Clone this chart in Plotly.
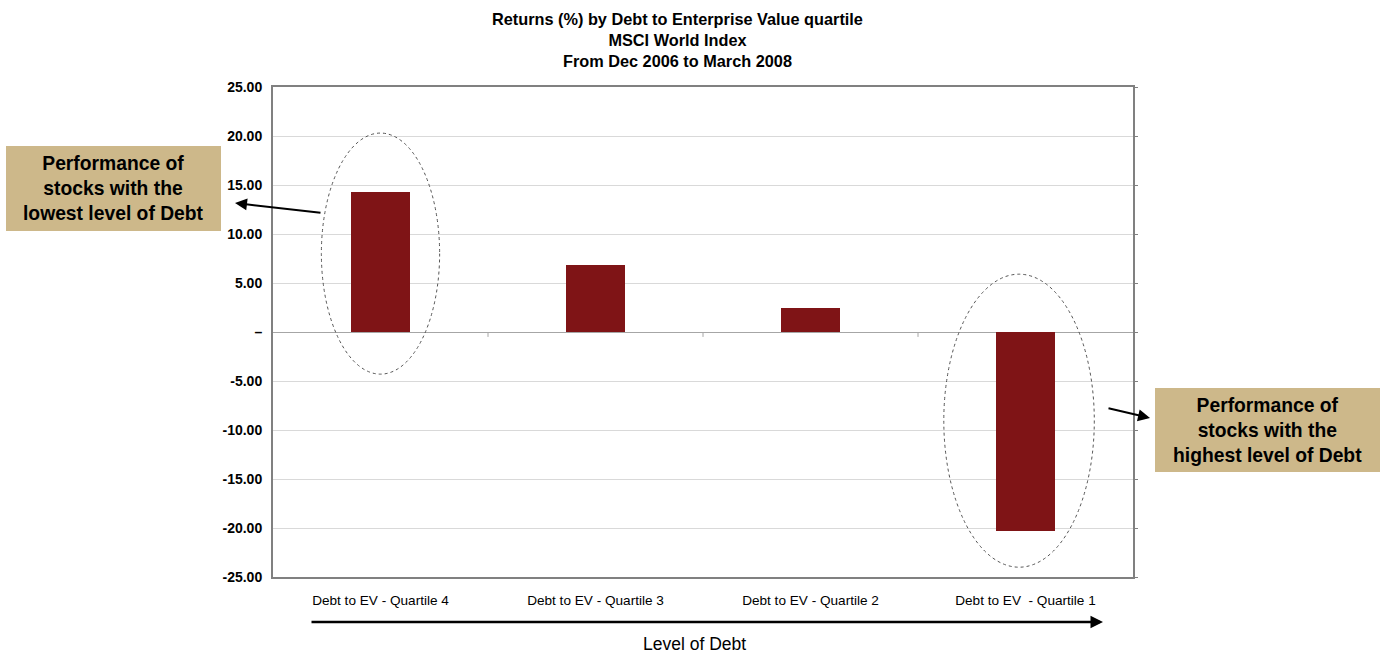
import plotly.graph_objects as go

categories = ["Debt to EV - Quartile 4", "Debt to EV - Quartile 3", "Debt to EV - Quartile 2", "Debt to EV  - Quartile 1"]
returns = [14.3, 6.84, 2.45, -20.35]
tick_vals = [25, 20, 15, 10, 5, 0, -5, -10, -15, -20, -25]
tick_text = ["25.00", "20.00", "15.00", "10.00", "5.00", "–", "-5.00", "-10.00", "-15.00", "-20.00", "-25.00"]

FONT = "Arial, Liberation Sans, sans-serif"
x_idx = list(range(len(categories)))

fig = go.Figure()
fig.add_trace(go.Bar(x=x_idx, y=returns, width=0.275, marker=dict(color="#7F1416", line=dict(width=0)),
                     showlegend=False, hoverinfo="x+y"))
# invisible helper trace so the right-hand tick axis is drawn
fig.add_trace(go.Scatter(x=[x_idx[0]], y=[returns[0]], yaxis="y2", mode="markers",
                         marker=dict(opacity=0), showlegend=False, hoverinfo="skip"))

fig.update_layout(
    width=1381, height=653,
    margin=dict(l=273, r=248, t=87, b=76),
    paper_bgcolor="white", plot_bgcolor="white",
    font=dict(family=FONT, color="black"),
    bargap=0,
    yaxis2=dict(overlaying="y", side="right", range=[-25, 25], tickvals=tick_vals,
                showticklabels=False, ticks="outside", ticklen=4, tickcolor="#808080",
                showgrid=False, zeroline=False, showline=False),
)
fig.update_xaxes(
    range=[-0.5, 3.5], tickvals=x_idx, ticktext=categories,
    tickfont=dict(size=13.6, family=FONT), ticks="", showgrid=False,
    showline=True, linecolor="#808080", linewidth=2, mirror=True,
    zeroline=False, ticklabelstandoff=10,
)
fig.update_layout(yaxis=dict(
    range=[-25, 25], tickvals=tick_vals, ticktext=tick_text,
    tickfont=dict(size=14, family=FONT, color="black", weight="bold"),
    showgrid=True, gridcolor="#d9d9d9", gridwidth=1,
    showline=True, linecolor="#808080", linewidth=2, mirror=True,
    ticks="", ticklabelstandoff=6,
    zeroline=True, zerolinecolor="#a6a6a6", zerolinewidth=1,
))

# category boundary ticks on the zero line
for b in [0.5, 1.5, 2.5]:
    fig.add_shape(type="line", xref="x", yref="y", x0=b, x1=b, y0=0, y1=-0.5,
                  line=dict(color="#a6a6a6", width=1))

# dotted ellipses
fig.add_shape(type="circle", xref="x", yref="y", x0=-0.275, x1=0.275, y0=-4.3, y1=20.3,
              line=dict(color="#555555", width=1, dash="dot"))
fig.add_shape(type="circle", xref="x", yref="y", x0=2.62, x1=3.32, y0=-24.0, y1=5.9,
              line=dict(color="#555555", width=1, dash="dot"))


def px_x(p):
    return (p - 273) / 860


def px_y(p):
    return (577 - p) / 490


# Title
fig.add_annotation(xref="paper", yref="paper", x=px_x(677), y=px_y(8),
                   xanchor="center", yanchor="top", showarrow=False, align="center",
                   text="<b>Returns (%) by Debt to Enterprise Value quartile<br>MSCI World Index<br>From Dec 2006 to March 2008</b>",
                   font=dict(size=16.3, family=FONT, color="black"))

# Boxes
fig.add_shape(type="rect", xref="paper", yref="paper", x0=px_x(6), x1=px_x(221), y0=px_y(231), y1=px_y(146),
              fillcolor="#CDB88A", line=dict(width=0), layer="below")
fig.add_annotation(xref="paper", yref="paper", x=px_x(113.5), y=px_y(188.5), xanchor="center", yanchor="middle",
                   showarrow=False, align="center",
                   text="<b>Performance of<br>stocks with the<br>lowest level of Debt</b>",
                   font=dict(size=19.3, family=FONT, color="black"))
fig.add_shape(type="rect", xref="paper", yref="paper", x0=px_x(1155), x1=px_x(1380), y0=px_y(472), y1=px_y(388),
              fillcolor="#CDB88A", line=dict(width=0), layer="below")
fig.add_annotation(xref="paper", yref="paper", x=px_x(1267.5), y=px_y(430), xanchor="center", yanchor="middle",
                   showarrow=False, align="center",
                   text="<b>Performance of<br>stocks with the<br>highest level of Debt</b>",
                   font=dict(size=19.3, family=FONT, color="black"))


def arrow(tip, tail, width=2, size=1.2):
    fig.add_annotation(xref="paper", yref="paper", x=px_x(tip[0]), y=px_y(tip[1]),
                       ax=tail[0] - tip[0], ay=tail[1] - tip[1], axref="pixel", ayref="pixel",
                       showarrow=True, arrowhead=2, arrowsize=size, arrowwidth=width,
                       arrowcolor="black", text="")


arrow((235, 203), (322, 213))
arrow((1150, 418), (1107, 408))
arrow((1103, 622), (310, 622), width=2.5, size=1.0)

fig.add_annotation(xref="paper", yref="paper", x=px_x(694), y=px_y(644), xanchor="center", yanchor="middle",
                   showarrow=False, text="Level of Debt", font=dict(size=17.5, family=FONT, color="black"))

fig.write_html("out.html")
